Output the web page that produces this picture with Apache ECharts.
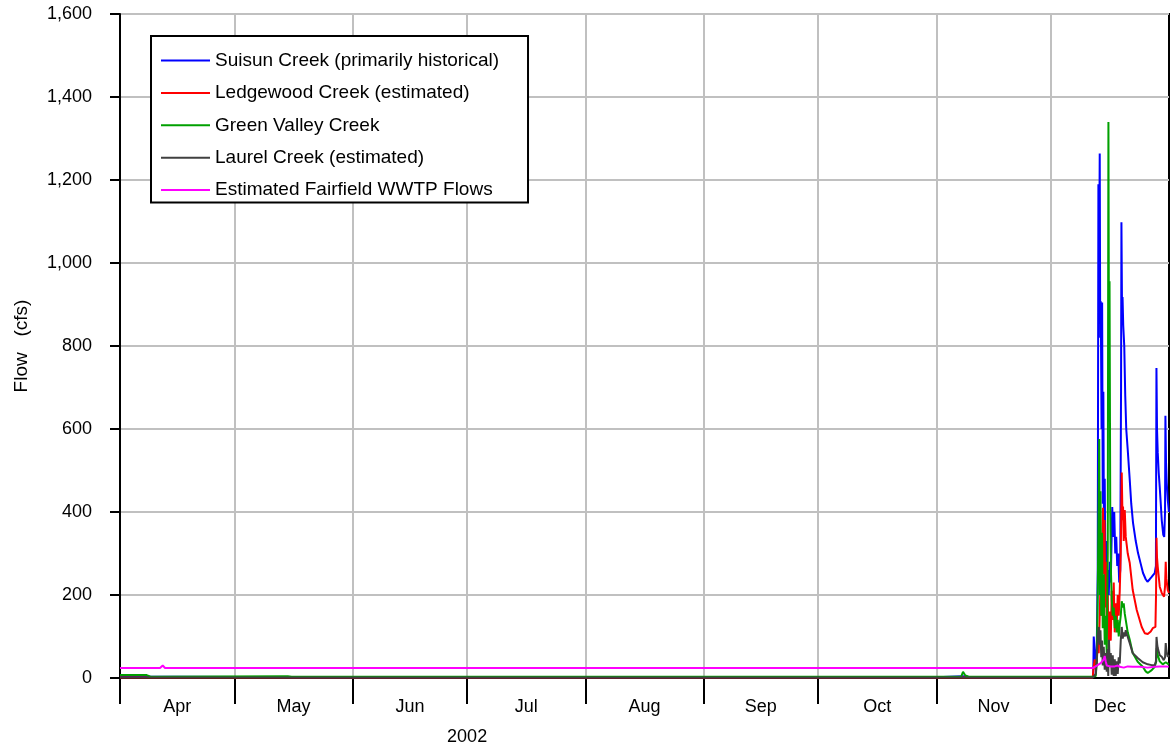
<!DOCTYPE html>
<html>
<head>
<meta charset="utf-8">
<script src="https://cdn.jsdelivr.net/npm/echarts@6/dist/echarts.min.js"></script>
<style>
html,body{margin:0;padding:0;background:#fff;}
#chart{width:1171px;height:749px;}
</style>
</head>
<body>
<div id="chart"></div>
<script>
// ---- Data ----
// Each point: [month, day-of-month (fractional, 1 = first day 00:00), flow in cfs]
const seriesNames = [
  'Suisun Creek (primarily historical)',
  'Ledgewood Creek (estimated)',
  'Green Valley Creek',
  'Laurel Creek (estimated)',
  'Estimated Fairfield WWTP Flows'
];
const seriesColors = ['#0000ff', '#ff0000', '#00a000', '#404040', '#ff00ff'];
const monthLabels = ['Apr', 'May', 'Jun', 'Jul', 'Aug', 'Sep', 'Oct', 'Nov', 'Dec'];
const yearLabel = '2002';
const yAxisTitle = 'Flow   (cfs)';

const suisun = [
  [4,1,3],[4,15,3],[5,20,2],[7,1,2],[9,1,2],[11,1,2],[11,8,4],[11,10,2],[12,1,2],[12,12.14,3],
  [12,12.27,100],[12,12.53,65],[12,12.80,40],[12,13.06,70],[12,13.32,260],[12,13.49,1190],[12,13.66,950],
  [12,13.84,1264],[12,13.97,820],[12,14.11,908],[12,14.32,600],[12,14.47,905],[12,14.63,420],[12,14.79,690],
  [12,14.97,300],[12,15.15,480],[12,15.37,190],[12,15.57,330],[12,15.78,170],[12,15.99,260],[12,16.20,200],
  [12,16.47,280],[12,16.73,230],[12,17.12,412],[12,17.38,340],[12,17.64,400],[12,17.91,300],[12,18.17,340],
  [12,18.43,270],[12,18.69,300],[12,18.95,230],[12,19.22,260],[12,19.43,700],[12,19.53,1098],[12,19.69,880],
  [12,19.82,918],[12,20.00,850],[12,20.27,800],[12,20.53,680],[12,20.79,600],[12,21.18,550],[12,21.71,477],
  [12,22.10,420],[12,22.57,374],[12,23.28,330],[12,23.88,301],[12,24.59,275],[12,25.19,253],[12,25.90,238],
  [12,26.35,232],[12,26.95,238],[12,27.40,243],[12,28.26,253],[12,28.57,270],[12,28.71,747],[12,28.86,600],
  [12,29.05,543],[12,29.31,494],[12,29.57,460],[12,29.84,420],[12,30.10,380],[12,30.50,345],[12,30.75,340],
  [12,30.96,400],[12,31.06,632],[12,31.22,520],[12,31.41,470],[12,31.67,430],[12,31.98,400]
];
const ledgewood = [
  [4,1,1],[12,12.01,1],[12,12.27,30],[12,12.53,45],[12,12.80,20],[12,13.06,40],[12,13.32,80],[12,13.58,60],
  [12,13.97,200],[12,14.24,150],[12,14.50,300],[12,14.71,410],[12,14.89,250],[12,15.10,381],[12,15.29,170],
  [12,15.49,280],[12,15.68,120],[12,15.94,200],[12,16.20,60],[12,16.47,160],[12,16.73,90],[12,16.99,210],
  [12,17.25,140],[12,17.51,230],[12,17.78,110],[12,18.04,180],[12,18.30,130],[12,18.56,200],[12,18.82,150],
  [12,19.09,210],[12,19.35,300],[12,19.61,495],[12,19.82,380],[12,19.95,413],[12,20.13,330],[12,20.40,405],
  [12,20.66,340],[12,20.92,320],[12,21.18,300],[12,21.71,277],[12,22.49,212],[12,23.54,164],[12,24.85,123],
  [12,25.64,108],[12,26.43,106],[12,27.21,112],[12,27.74,120],[12,28.44,123],[12,28.60,200],[12,28.73,338],
  [12,28.86,290],[12,29.05,268],[12,29.57,220],[12,30.10,205],[12,30.70,196],[12,30.96,220],[12,31.14,280],
  [12,31.31,240],[12,31.67,212],[12,31.98,205]
];
const greenValley = [
  [4,1,7],[4,8,7],[4,9,3],[5,15,4],[5,16,3],[6,20,3],[8,1,3],[10,1,3],[11,7.5,3],[11,8,15],[11,8.6,6],
  [11,9.5,3],[12,1,3],[12,12.01,3],[12,12.53,2],[12,12.80,5],[12,13.06,40],[12,13.32,200],[12,13.71,576],
  [12,13.90,200],[12,14.05,450],[12,14.24,150],[12,14.45,350],[12,14.63,120],[12,14.89,250],[12,15.15,80],
  [12,15.42,150],[12,15.68,60],[12,15.94,300],[12,16.12,1340],[12,16.28,700],[12,16.41,956],[12,16.60,400],
  [12,16.80,250],[12,16.99,190],[12,17.25,150],[12,17.51,170],[12,17.78,120],[12,18.04,150],[12,18.30,110],
  [12,18.56,140],[12,18.82,100],[12,19.09,130],[12,19.35,150],[12,19.61,185],[12,19.87,170],[12,20.13,180],
  [12,20.40,155],[12,20.66,140],[12,21.18,110],[12,21.71,92],[12,22.49,60],[12,23.80,39],[12,25.12,27],
  [12,25.90,16],[12,26.43,12],[12,26.95,15],[12,27.47,19],[12,28.26,27],[12,28.65,40],[12,28.79,72],
  [12,29.05,55],[12,29.57,40],[12,30.36,33],[12,31.14,38],[12,31.93,33]
];
const laurel = [
  [4,1,1],[12,12.01,1],[12,12.53,2],[12,12.80,10],[12,13.06,40],[12,13.32,100],[12,13.58,123],[12,13.84,80],
  [12,14.03,115],[12,14.24,50],[12,14.45,90],[12,14.63,30],[12,14.89,75],[12,15.15,20],[12,15.42,60],
  [12,15.68,15],[12,15.89,70],[12,16.07,5],[12,16.26,92],[12,16.47,30],[12,16.73,60],[12,16.99,8],
  [12,17.25,55],[12,17.51,5],[12,17.78,45],[12,18.04,5],[12,18.30,40],[12,18.56,10],[12,18.82,50],
  [12,19.09,35],[12,19.35,90],[12,19.61,123],[12,19.87,95],[12,20.13,110],[12,20.40,100],[12,20.66,115],
  [12,20.92,105],[12,21.18,99],[12,21.71,84],[12,22.49,60],[12,23.80,48],[12,25.12,38],[12,26.43,33],
  [12,27.47,31],[12,28.26,31],[12,28.57,40],[12,28.73,99],[12,28.92,80],[12,29.05,72],[12,29.57,55],
  [12,30.10,51],[12,30.62,43],[12,30.96,50],[12,31.14,84],[12,31.34,65],[12,31.67,51],[12,31.98,55]
];
const wwtp = [
  [4,1,24],[4,11.5,24],[4,12.2,30],[4,12.8,24],[11,30,24],[12,12.01,24],[12,12.53,27],[12,13.06,30],
  [12,13.58,30],[12,14.11,36],[12,14.37,33],[12,14.89,45],[12,15.15,53],[12,15.42,40],[12,15.68,30],
  [12,16.47,28],[12,17.78,28],[12,18.56,30],[12,19.09,27],[12,20.13,25],[12,21.18,28],[12,22.49,27],
  [12,24.33,27],[12,26.43,25],[12,28.26,27],[12,29.57,28],[12,31.14,28],[12,31.93,27]
];
const seriesData = [suisun, ledgewood, greenValley, laurel, wwtp];

// ---- Helpers ----
const DAY = 86400000;
function toTs(month, day) { return Date.UTC(2002, month - 1, 1) + (day - 1) * DAY; }
const axisMin = Date.UTC(2002, 3, 1);
const axisMax = Date.UTC(2003, 0, 1);
const monthStarts = [];
for (let m = 3; m <= 11; m++) monthStarts.push(Date.UTC(2002, m, 1));
const monthMids = monthStarts.map((s, i) => {
  const next = i < monthStarts.length - 1 ? monthStarts[i + 1] : axisMax;
  return (s + next) / 2;
});

const FONT = "'Liberation Sans', Arial, sans-serif";
const chart = echarts.init(document.getElementById('chart'), null, { renderer: 'canvas' });

const option = {
  animation: false,
  backgroundColor: '#ffffff',
  textStyle: { fontFamily: FONT },
  grid: {
    left: 120, top: 14, right: 2, bottom: 71,
    show: true, borderColor: '#000', borderWidth: 2, backgroundColor: 'transparent'
  },
  legend: {
    orient: 'vertical',
    left: 151, top: 36,
    icon: 'rect',
    itemWidth: 49, itemHeight: 2,
    itemGap: 13.4,
    padding: [15, 29, 3, 10],
    backgroundColor: '#fff',
    borderColor: '#000', borderWidth: 2,
    textStyle: { fontFamily: FONT, fontSize: 19, color: '#000' },
    data: seriesNames
  },
  xAxis: {
    type: 'value',
    min: axisMin, max: axisMax,
    axisLine: { show: true, onZero: false, lineStyle: { color: '#000', width: 2 } },
    axisTick: { show: true, length: 26, customValues: monthStarts, lineStyle: { color: '#000', width: 2 } },
    axisLabel: {
      customValues: monthMids,
      margin: 20,
      fontFamily: FONT, fontSize: 18, color: '#000',
      formatter: function (v) {
        const m = new Date(v).getUTCMonth();
        return monthLabels[m - 3];
      }
    },
    splitLine: { show: true, lineStyle: { color: '#c0c0c0', width: 2 } }
  },
  yAxis: {
    type: 'value',
    min: 0, max: 1600, interval: 200,
    name: yAxisTitle,
    nameLocation: 'middle',
    nameGap: 89,
    nameTextStyle: { fontFamily: FONT, fontSize: 19, color: '#000' },
    axisLine: { show: true, lineStyle: { color: '#000', width: 2 } },
    axisTick: { show: true, length: 10, lineStyle: { color: '#000', width: 2 } },
    axisLabel: {
      margin: 28, fontFamily: FONT, fontSize: 18, color: '#000',
      formatter: function (v) { return v.toLocaleString('en-US'); }
    },
    splitLine: { show: true, lineStyle: { color: '#c0c0c0', width: 2 } }
  },
  series: seriesNames.map((name, i) => ({
    name: name,
    type: 'line',
    showSymbol: false,
    symbol: 'none',
    color: seriesColors[i],
    lineStyle: { color: seriesColors[i], width: 2 },
    data: seriesData[i].map(p => [toTs(p[0], p[1]), p[2]]),
    z: 2 + i
  }))
};
chart.setOption(option);

// year label under the axis, anchored at the start of July
const yearX = chart.convertToPixel({ xAxisIndex: 0 }, Date.UTC(2002, 6, 1));
chart.setOption({
  graphic: [{
    type: 'text', x: yearX, y: 737,
    style: { text: yearLabel, fontFamily: FONT, fontSize: 18, fill: '#000', align: 'center', verticalAlign: 'middle' }
  }]
});
</script>
</body>
</html>
